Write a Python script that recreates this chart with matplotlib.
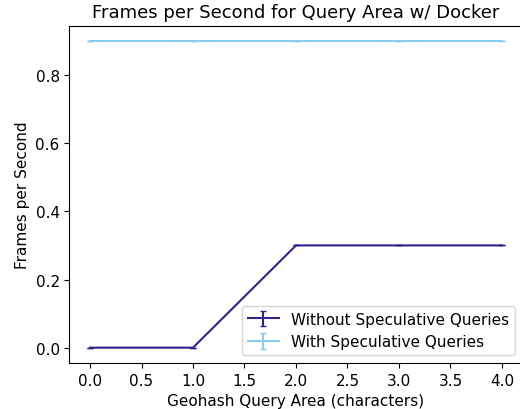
import matplotlib
matplotlib.use('Agg')
import matplotlib.pyplot as plt

# Geohash query area (characters)
query_area = [0, 1, 2, 3, 4]

# Frames per second for each configuration
without_spec = [0.0, 0.0, 0.3, 0.3, 0.3]
with_spec = [0.9, 0.9, 0.9, 0.9, 0.9]
without_err = [0, 0, 0, 0, 0]
with_err = [0, 0, 0, 0, 0]

plt.rcParams['font.size'] = 11

fig = plt.figure(figsize=(5.2, 4.1), dpi=100)
ax = fig.add_axes([69.4 / 520, 46 / 410, 453.2 / 520, 337.4 / 410])

ax.errorbar(query_area, without_spec, yerr=without_err, color='#332288',
            capsize=2.5, label='Without Speculative Queries')
ax.errorbar(query_area, with_spec, yerr=with_err, color='#88CCEE',
            capsize=2.5, label='With Speculative Queries')

ax.set_xlabel('Geohash Query Area (characters)', fontsize=11)
ax.set_ylabel('Frames per Second', fontsize=11)
ax.set_title('Frames per Second for Query Area w/ Docker', fontsize=13)
ax.set_xticks([0, 0.5, 1, 1.5, 2, 2.5, 3, 3.5, 4])
ax.tick_params(labelsize=11)
ax.legend(loc='lower right', fontsize=11)

fig.savefig('out.png', dpi=100)
